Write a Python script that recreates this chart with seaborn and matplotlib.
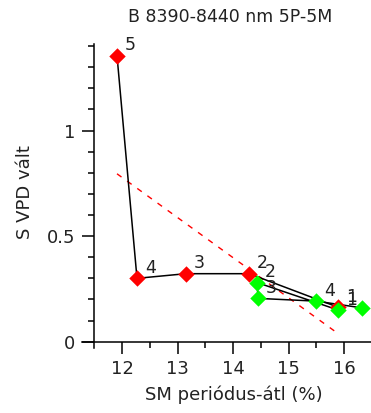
import matplotlib
matplotlib.use("Agg")
import matplotlib.pyplot as plt
import seaborn as sns
import pandas as pd
from matplotlib.ticker import FixedLocator

# ---- data ----
title = "B 8390-8440 nm 5P-5M"
xlabel = "SM periódus-átl (%)"
ylabel = "S VPD vált"

red_labels = ["5", "4", "3", "2", "1"]
red_x = [11.91, 12.27, 13.15, 14.29, 15.89]
red_y = [1.355, 0.300, 0.322, 0.322, 0.163]

green_labels = ["5", "4", "3", "2", "1"]
green_x = [16.32, 15.50, 14.45, 14.43, 15.89]
green_y = [0.160, 0.192, 0.205, 0.280, 0.150]

x_ticks = [12, 13, 14, 15, 16]
y_ticks = [0, 0.5, 1]

sns.set_theme(style="white")
plt.rcParams["font.family"] = ["DejaVu Sans"]

W, H = 371, 413
fig = plt.figure(figsize=(W / 100, H / 100), dpi=100)
x0, x1 = 11.28, 16.5
y0, y1 = -0.03, 1.41
ax = fig.add_axes([82 / W, 1 - 348 / H, 290 / W, (348 - 44) / H])

red_df = pd.DataFrame({"x": red_x, "y": red_y, "lab": red_labels})
green_df = pd.DataFrame({"x": green_x, "y": green_y, "lab": green_labels})

# regression trend of red series
sns.regplot(data=red_df, x="x", y="y", scatter=False, ci=None, ax=ax,
            line_kws=dict(color="#ff0000", lw=1, ls=(0, (4, 5))))

for df, col in [(red_df, "#ff0000"), (green_df, "#00ff00")]:
    sns.lineplot(data=df, x="x", y="y", sort=False, estimator=None, ax=ax,
                 color="black", lw=1.1, zorder=3)
    sns.scatterplot(data=df, x="x", y="y", marker="D", s=70, color=col,
                    edgecolor=col, linewidth=0, ax=ax, zorder=4)
    for _, r in df.iterrows():
        ax.annotate(r["lab"], (r["x"], r["y"]), xytext=(9.5, 7.5),
                    textcoords="offset points", ha="center", va="center",
                    fontsize=12.5, color="#222222", zorder=5,
                    annotation_clip=False)

ax.set_xlim(x0, x1)
ax.set_ylim(y0, y1)
ax.set_xlabel("")
ax.set_ylabel("")
for s in ["top", "right"]:
    ax.spines[s].set_visible(False)
ax.spines["left"].set_position(("data", 11.5))
ax.spines["bottom"].set_position(("data", 0))
for s in ["left", "bottom"]:
    ax.spines[s].set_color("black")
    ax.spines[s].set_linewidth(1.1)

ax.xaxis.set_major_locator(FixedLocator(x_ticks))
ax.xaxis.set_minor_locator(FixedLocator([12.5, 13.5, 14.5, 15.5, 16.5]))
ax.yaxis.set_major_locator(FixedLocator(y_ticks))
ax.yaxis.set_minor_locator(FixedLocator([0.1, 0.2, 0.3, 0.4, 0.6, 0.7, 0.8, 0.9,
                                         1.1, 1.2, 1.3, 1.4]))
ax.set_xticklabels([str(t) for t in x_ticks])
ax.set_yticklabels(["0", "0.5", "1"])
ax.tick_params(axis="both", which="major", direction="out", length=8.5,
               width=1.1, color="black", labelsize=13, labelcolor="#222222",
               pad=5)
ax.tick_params(axis="both", which="minor", direction="out", length=4.5,
               width=1.1, color="black")
ax.tick_params(left=True, bottom=True, which="both")

fig.text(230 / W, 1 - 17 / H, title, ha="center", va="center", fontsize=12.5,
         color="#222222")
fig.text(234 / W, 1 - 395 / H, xlabel, ha="center", va="center", fontsize=13,
         color="#222222")
fig.text(25 / W, 1 - 192 / H, ylabel, ha="center", va="center", fontsize=13,
         rotation=90, color="#222222")

fig.savefig("out.png", dpi=100)
